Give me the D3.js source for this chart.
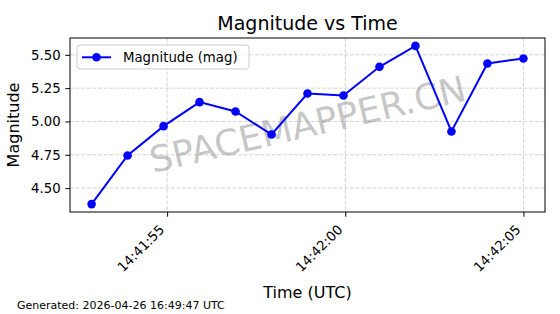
<!DOCTYPE html>
<head>
  <meta charset='utf-8'>
  <style>
      body {
        margin: 0;
        background: white;
      }

      text {
        font-family: 'DejaVu Sans', sans-serif;
        fill: black;
      }

      .grid line {
        stroke: #b0b0b0;
        stroke-opacity: 0.7;
        stroke-width: 0.8px;
        stroke-dasharray: 3.9, 1.7;
      }

      .axis path {
        display: none;
      }

      .axis .tick line {
        stroke: black;
        stroke-width: 1px;
      }

      .axis .tick text {
        font-size: 13.3px;
      }

      .line {
        fill: none;
        stroke: #0000ff;
        stroke-width: 2px;
      }

      .dot {
        fill: #0000ff;
      }
  </style>
</head>
<body>
    <script src='https://d3js.org/d3.v7.min.js'></script>
<script>
    var times = [
        '2026-04-26T14:41:52.88Z', '2026-04-26T14:41:53.89Z', '2026-04-26T14:41:54.90Z',
        '2026-04-26T14:41:55.91Z', '2026-04-26T14:41:56.92Z', '2026-04-26T14:41:57.93Z',
        '2026-04-26T14:41:58.94Z', '2026-04-26T14:41:59.95Z', '2026-04-26T14:42:00.96Z',
        '2026-04-26T14:42:01.97Z', '2026-04-26T14:42:02.98Z', '2026-04-26T14:42:03.99Z',
        '2026-04-26T14:42:05.00Z'
    ];
    var magnitudes = [4.38, 4.745, 4.965, 5.145, 5.075, 4.902, 5.21, 5.195, 5.41, 5.567, 4.925, 5.435, 5.473];
    var yTicks = [4.50, 4.75, 5.00, 5.25, 5.50];
    var xTicks = ['2026-04-26T14:41:55Z', '2026-04-26T14:42:00Z', '2026-04-26T14:42:05Z'];

    var
        W = 560,
        H = 314,
        margin = {top: 38, right: 15, bottom: 102, left: 70},
        w = W - margin.left - margin.right,
        h = H - margin.top - margin.bottom;

    var data = times.map(function(t, i) {
        return {t: new Date(t), v: magnitudes[i]};
    });

    // matplotlib style 5% padding on both axes
    function padded(ext) {
        var p = (ext[1] - ext[0]) * 0.05;
        return [ext[0] - p, ext[1] + p];
    }

    var
        tExt = d3.extent(data, function(d) { return +d.t; }),
        xScale = d3.scaleUtc()
            .domain(padded(tExt).map(function(d) { return new Date(d); }))
            .range([0, w]),
        yScale = d3.scaleLinear()
            .domain(padded(d3.extent(magnitudes)))
            .range([h, 0]),
        line = d3.line()
            .x(function(d) { return xScale(d.t); })
            .y(function(d) { return yScale(d.v); });

    var
        svg = d3.select('body')
            .append('svg')
                .attr('width', W)
                .attr('height', H),
        g = svg.append('g')
            .attr('transform', 'translate(' + margin.left + ',' + margin.top + ')');

    // grid
    var grid = g.append('g').attr('class', 'grid');
    grid.selectAll('.gx')
        .data(xTicks)
        .enter().append('line')
        .attr('x1', function(d) { return xScale(new Date(d)); })
        .attr('x2', function(d) { return xScale(new Date(d)); })
        .attr('y1', 0)
        .attr('y2', h);
    grid.selectAll('.gy')
        .data(yTicks)
        .enter().append('line')
        .attr('x1', 0)
        .attr('x2', w)
        .attr('y1', function(d) { return yScale(d); })
        .attr('y2', function(d) { return yScale(d); });

    // watermark
    g.append('text')
        .attr('transform', 'translate(' + (w / 2) + ',' + (h / 2 - 1) + ') rotate(-13)')
        .attr('text-anchor', 'middle')
        .attr('dy', '0.36em')
        .style('font-size', '36px')
        .style('fill', '#808080')
        .style('fill-opacity', 0.45)
        .text('SPACEMAPPER.CN');

    g.append('path')
        .datum(data)
        .attr('class', 'line')
        .attr('d', line);

    g.selectAll('.dot')
        .data(data)
        .enter().append('circle')
        .attr('class', 'dot')
        .attr('r', 4.3)
        .attr('cx', function(d) { return xScale(d.t); })
        .attr('cy', function(d) { return yScale(d.v); });

    // axes
    var xAxis = g.append('g')
        .attr('class', 'axis')
        .attr('transform', 'translate(0,' + h + ')')
        .call(d3.axisBottom(xScale)
            .tickValues(xTicks.map(function(d) { return new Date(d); }))
            .tickFormat(d3.utcFormat('%H:%M:%S'))
            .tickSize(4.7));
    xAxis.selectAll('.tick text')
        .attr('text-anchor', 'end')
        .attr('y', 0)
        .attr('dy', 0)
        .attr('transform', 'translate(-2.3,18.5) rotate(-45)');

    g.append('g')
        .attr('class', 'axis')
        .call(d3.axisLeft(yScale)
            .tickValues(yTicks)
            .tickFormat(d3.format('.2f'))
            .tickSize(4.7)
            .tickPadding(4.7));

    // frame
    g.append('rect')
        .attr('width', w)
        .attr('height', h)
        .style('fill', 'none')
        .style('stroke', 'black')
        .style('stroke-width', 1);

    // legend
    var legend = g.append('g')
        .attr('transform', 'translate(7,7)');
    legend.append('rect')
        .attr('width', 172)
        .attr('height', 24)
        .attr('rx', 3)
        .style('fill', 'white')
        .style('fill-opacity', 0.8)
        .style('stroke', '#cccccc')
        .style('stroke-width', 1);
    legend.append('line')
        .attr('x1', 5)
        .attr('x2', 34)
        .attr('y1', 12.3)
        .attr('y2', 12.3)
        .style('stroke', '#0000ff')
        .style('stroke-width', 2);
    legend.append('circle')
        .attr('cx', 19.5)
        .attr('cy', 12.3)
        .attr('r', 4.3)
        .style('fill', '#0000ff');
    legend.append('text')
        .attr('x', 46)
        .attr('y', 12.3)
        .attr('dy', '0.36em')
        .style('font-size', '13.3px')
        .text('Magnitude (mag)');

    // titles
    svg.append('text')
        .attr('x', margin.left + w / 2)
        .attr('y', 30)
        .attr('text-anchor', 'middle')
        .style('font-size', '19px')
        .text('Magnitude vs Time');

    svg.append('text')
        .attr('x', margin.left + w / 2)
        .attr('y', 298)
        .attr('text-anchor', 'middle')
        .style('font-size', '16px')
        .text('Time (UTC)');

    svg.append('text')
        .attr('transform', 'translate(19,' + (margin.top + h / 2) + ') rotate(-90)')
        .attr('text-anchor', 'middle')
        .style('font-size', '16px')
        .text('Magnitude');

    svg.append('text')
        .attr('x', 17)
        .attr('y', 309)
        .style('font-size', '11px')
        .text('Generated: 2026-04-26 16:49:47 UTC');
</script>
</body>
